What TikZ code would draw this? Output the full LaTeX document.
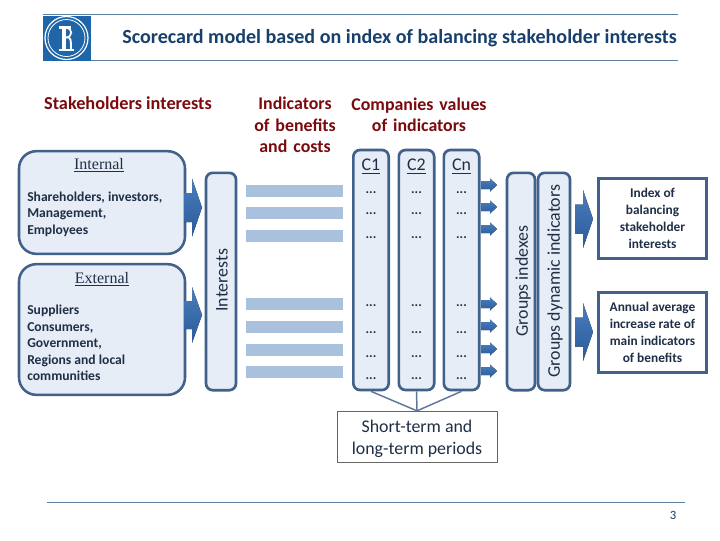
\documentclass[tikz,border=0pt]{standalone}
\usepackage{fontspec}
\setmainfont{Carlito}
\newfontfamily\tmsfont{Liberation Serif}
\usetikzlibrary{shadings}
\definecolor{navy}{HTML}{17406D}
\definecolor{boxline}{HTML}{41608A}
\definecolor{boxfill}{HTML}{E6EDF6}
\definecolor{barfill}{HTML}{AAC1DE}
\definecolor{redtxt}{HTML}{7A0A0E}
\definecolor{darktxt}{HTML}{1F2F47}
\definecolor{logoblue}{HTML}{1F66A8}
\definecolor{arrowtop}{HTML}{4A7EBB}
\definecolor{arrowbot}{HTML}{2A5A9C}
\definecolor{ruleline}{HTML}{5F7F9F}
\tikzset{
 x=0.75pt,y=-0.75pt,
 roundbox/.style={draw=boxline,line width=1.9pt,fill=boxfill,rounded corners=13pt},
 narrowbox/.style={draw=boxline,line width=2pt,fill=boxfill,rounded corners=5pt},
 whitebox/.style={draw=boxline,line width=2pt,fill=white},
 barbox/.style={fill=barfill},
 heading/.style={text=redtxt,font=\fontsize{13.4}{16}\selectfont\bfseries,align=center,inner sep=0},
 bodytxt/.style={text=darktxt,font=\fontsize{10.2}{12.4}\selectfont\bfseries,align=left,anchor=west,inner sep=0},
 sidetxt/.style={text=darktxt,font=\fontsize{10}{12.7}\selectfont\bfseries,align=center,inner sep=0},
 undertxt/.style={text=darktxt,font=\tmsfont\fontsize{12}{13}\selectfont,inner sep=0},
 dotstxt/.style={text=darktxt,font=\fontsize{10}{10}\selectfont\bfseries,inner sep=0},
 vtxt/.style={text=darktxt,font=\fontsize{13.4}{15}\selectfont,rotate=90,inner sep=0},
 arrowshape/.style={top color=arrowtop,bottom color=arrowbot,draw=none},
}
\newcommand{\fatarrow}[5]{%
 \fill[arrowshape] (#1,#4-#5) -- (#2,#4-#5) -- (#2,#4-2*#5) -- (#3,#4) -- (#2,#4+2*#5) -- (#2,#4+#5) -- (#1,#4+#5) -- cycle;}
\newcommand{\thinarrow}[1]{%
 \fill[arrowshape] (481,#1-4) -- (490,#1-4) -- (490,#1-6.5) -- (497,#1) -- (490,#1+6.5) -- (490,#1+4) -- (481,#1+4) -- cycle;}
\begin{document}
\begin{tikzpicture}
\useasboundingbox (0,0) rectangle (720,540);
\fill[white] (0,0) rectangle (720,540);
% header
\coordinate (hl) at (43,14.5); \coordinate (hr) at (678,14.5);
\coordinate (hl2) at (43,60.5); \coordinate (hr2) at (678,60.5);
\draw[ruleline,line width=0.7pt] (hl) -- (hr);
\draw[ruleline,line width=0.7pt] (hl2) -- (hr2);
\fill[logoblue] (43,16) rectangle (91,61);
\draw[white,line width=0.9pt] (66.5,38) circle[radius=21.5];
\draw[white,line width=0.6pt] (66.5,38) circle[radius=18.5];
\fill[white] (59,26) rectangle (71,28.5);
\fill[white] (62,26) rectangle (66,50);
\draw[white,line width=1.3pt] (66,28) .. controls (73,28) and (73,37) .. (66,37.5);
\draw[white,line width=1.4pt] (66,37.5) .. controls (71,36) and (71,40) .. (71,50);
\fill[white] (59,49) rectangle (74,50.5);
\node[text=navy,font=\fontsize{15.05}{17}\selectfont\bfseries,inner sep=0] (title) at (399.5,38) {Scorecard model based on index of balancing stakeholder interests};
% headings
\node[heading,font=\fontsize{13.7}{16}\selectfont\bfseries] (h1) at (128,103.5) {Stakeholders interests};
\node[heading,text width=90pt] (h2) at (295,125) {Indicators\\of benefits\\and costs};
\node[heading,text width=150pt] (h3) at (419,114.5) {Companies values\\of indicators};
% stakeholder boxes
\node[roundbox,minimum width=124.5pt,minimum height=77pt] (internal) at (102,202.5) {};
\node[roundbox,minimum width=124.5pt,minimum height=98pt] (external) at (102,329.5) {};
\node[undertxt] (intl) at (99,165) {\underline{Internal}};
\node[undertxt] (extl) at (102,279) {\underline{External}};
\node[bodytxt] (inttxt) at (27,214) {Shareholders, investors,\\Management,\\Employees};
\node[bodytxt] (exttxt) at (27,343) {Suppliers\\Consumers,\\Government,\\Regions and local\\communities};
\fatarrow{184}{192}{202}{207.5}{14.5}
\fatarrow{184}{192}{202}{315}{14}
% interests
\node[narrowbox,minimum width=22.5pt,minimum height=163pt] (interests) at (221,281.5) {};
\node[vtxt] (intt) at (222,280) {Interests};
% bars
\foreach \y/\n in {191/a,213/b,236/c,304/d,327/e,349.5/f,372/g}
  \node[barbox,minimum width=72.75pt,minimum height=9pt,inner sep=0] (bar\n) at (294.5,\y) {};
% columns
\foreach \x/\n/\t in {371/c1/C1,416.5/c2/C2,461.5/c3/Cn}{
  \node[narrowbox,minimum width=26.5pt,minimum height=180pt] (\n) at (\x,270) {};
  \node[undertxt,font=\fontsize{13.4}{15}\selectfont] (\n t) at (\x,166.5) {\underline{\t}};
  \foreach \y in {188,209,233,301,328,352,374}
    \node[dotstxt] at (\x,\y+4.5) {...};
}
\foreach \y in {185,207,229,304,326,349,371} {\thinarrow{\y}}
% groups
\node[narrowbox,minimum width=21pt,minimum height=163pt] (gi) at (521,281.5) {};
\node[narrowbox,minimum width=24pt,minimum height=163pt] (gd) at (554,281.5) {};
\node[vtxt] (git) at (523,281) {Groups indexes};
\node[vtxt] (gdt) at (555,281) {Groups dynamic indicators};
% outcome
\fatarrow{575}{583}{593}{219}{14.5}
\fatarrow{575}{583}{593}{332}{14.5}
\node[whitebox,minimum width=81pt,minimum height=60pt] (idx) at (652.5,218.5) {};
\node[whitebox,minimum width=81pt,minimum height=60pt] (rate) at (652.5,332.5) {};
\node[sidetxt] (idxt) at (652.5,218.5) {Index of\\balancing\\stakeholder\\interests};
\node[sidetxt] (ratet) at (652.5,332.5) {Annual average\\increase rate of\\main indicators\\of benefits};
% periods
\node[draw=black!60,line width=0.5pt,fill=white,minimum width=120pt,minimum height=38pt,text=darktxt,font=\fontsize{13.4}{16.5}\selectfont,align=center,inner sep=0,yshift=0pt] (period) at (417,436.5) {\rule{0pt}{13pt}Short-term and\\long-term periods};
\draw[boxline!85!white,line width=1.1pt] (period.north) -- (c1.south);
\draw[boxline!85!white,line width=1.1pt] (period.north) -- (c2.south);
\draw[boxline!85!white,line width=1.1pt] (period.north) -- (c3.south);
% footer
\coordinate (fl) at (47,502); \coordinate (fr) at (685,502);
\draw[ruleline,line width=0.7pt] (fl) -- (fr);
\node[text=navy,font=\fontsize{9.5}{10}\selectfont,inner sep=0] (pg) at (673,515) {3};
\end{tikzpicture}
\end{document}
